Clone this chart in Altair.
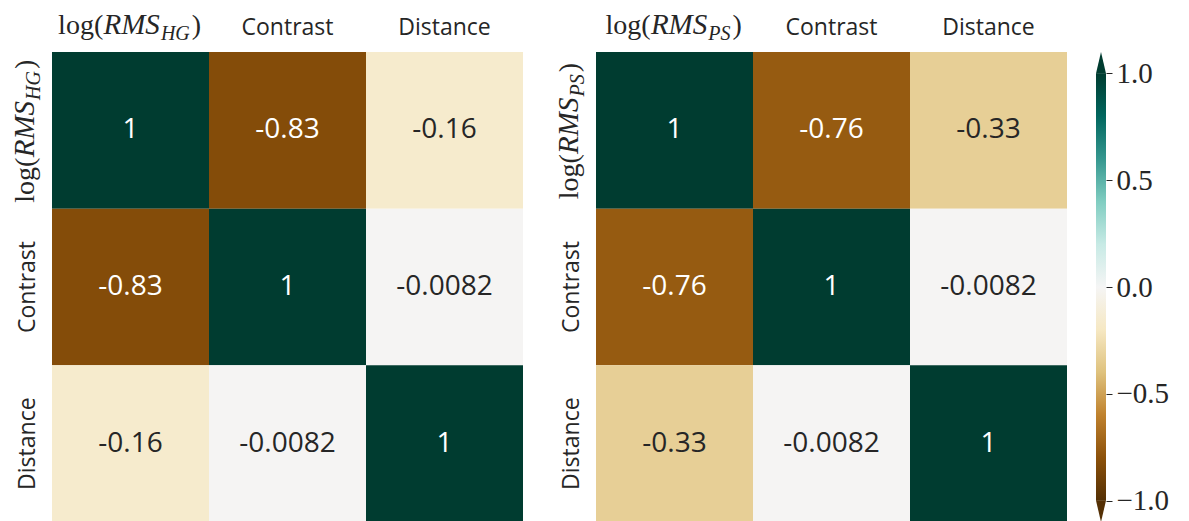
import altair as alt
import pandas as pd

# ---- data ----
labels_hg = ["log(RMS_HG)", "Contrast", "Distance"]
labels_ps = ["log(RMS_PS)", "Contrast", "Distance"]
corr_hg = [[1, -0.83, -0.16],
           [-0.83, 1, -0.0082],
           [-0.16, -0.0082, 1]]
corr_ps = [[1, -0.76, -0.33],
           [-0.76, 1, -0.0082],
           [-0.33, -0.0082, 1]]
cbar_ticks = [-1.0, -0.5, 0.0, 0.5, 1.0]
cbar_range = [-1.0, 1.0]

# BrBG (ColorBrewer 11) and its stops
brbg_colors = ["#543005", "#8c510a", "#bf812d", "#dfc27d", "#f6e8c3", "#f5f5f5",
               "#c7eae5", "#80cdc1", "#35978f", "#01665e", "#003c30"]
brbg_stops = [-1.0, -0.8, -0.6, -0.4, -0.2, 0.0, 0.2, 0.4, 0.6, 0.8, 1.0]

SANS = "Open Sans"
SERIF = "Liberation Serif"
DARK = "#262626"
W, H = 471, 470
LAB_OFF = 18

# math label pieces: text, style, size, dx, dy
pieces_hg = [("log(", "normal", 28, -72.4, 0), ("RMS", "italic", 29, -27, 0),
             ("HG", "italic", 20, 30.4, 6), (")", "normal", 28, 61.3, 0)]
pieces_ps = [("log(", "normal", 28, -69, 0), ("RMS", "italic", 29, -23.6, 0),
             ("PS", "italic", 20, 33.8, 6), (")", "normal", 28, 58, 0)]


def cells(cats, corr):
    rows = []
    for i, r in enumerate(cats):
        for j, c in enumerate(cats):
            v = corr[i][j]
            rows.append({"row": r, "col": c, "v": v, "label": format(v, ".2g")})
    return pd.DataFrame(rows)


def heat_layers(cats, corr, pieces):
    df = cells(cats, corr)
    xs = alt.Scale(domain=cats, paddingInner=0, paddingOuter=0)
    ys = alt.Scale(domain=cats, paddingInner=0, paddingOuter=0)
    blank = f"datum.value == '{cats[0]}' ? '' : datum.value"
    xaxis = alt.Axis(orient="top", title=None, labelAngle=0, labelAlign="center",
                     labelBaseline="alphabetic", labelPadding=LAB_OFF, ticks=False,
                     tickSize=0, domain=False, labelFont=SANS, labelFontSize=23,
                     labelColor=DARK, labelExpr=blank, labelOverlap=False)
    yaxis = alt.Axis(orient="left", title=None, labelAngle=270, labelAlign="center",
                     labelBaseline="alphabetic", labelPadding=LAB_OFF, ticks=False,
                     tickSize=0, domain=False, labelFont=SANS, labelFontSize=23,
                     labelColor=DARK, labelExpr=blank, labelOverlap=False)
    rect = alt.Chart(df).mark_rect(strokeWidth=0).encode(
        x=alt.X("col:N", scale=xs, axis=xaxis, title=None),
        y=alt.Y("row:N", scale=ys, axis=yaxis, title=None),
        color=alt.Color("v:Q", scale=alt.Scale(domain=brbg_stops, range=brbg_colors,
                                                interpolate="rgb"), legend=None),
    )
    text = alt.Chart(df).mark_text(font=SANS, fontSize=28, baseline="middle").encode(
        x=alt.X("col:N", scale=xs, title=None),
        y=alt.Y("row:N", scale=ys, title=None),
        text="label:N",
        color=alt.when(alt.expr.abs(alt.datum.v) > 0.5)
                 .then(alt.value("white")).otherwise(alt.value(DARK)),
    )
    layers = [rect, text]
    top_df = pd.DataFrame({"col": [cats[0]]})
    left_df = pd.DataFrame({"row": [cats[0]]})
    for t, style, fs, dx, dy in pieces:
        layers.append(
            alt.Chart(top_df).mark_text(text=t, font=SERIF, fontSize=fs, fontStyle=style,
                                        align="left", baseline="alphabetic", dx=dx, dy=dy,
                                        color=DARK)
            .encode(x=alt.X("col:N", scale=xs, title=None), y=alt.value(-LAB_OFF))
        )
        layers.append(
            alt.Chart(left_df).mark_text(text=t, font=SERIF, fontSize=fs, fontStyle=style,
                                         align="left", baseline="alphabetic", dx=dx, dy=dy,
                                         angle=270, color=DARK)
            .encode(y=alt.Y("row:N", scale=ys, title=None), x=alt.value(-LAB_OFF))
        )
    return alt.layer(*layers)


left = heat_layers(labels_hg, corr_hg, pieces_hg).properties(width=W, height=H)

# ---- colorbar ----
cy = alt.Scale(domain=[-1.1, 1.1], nice=False, zero=False)
cb_df = pd.DataFrame({"lo": [cbar_range[0]], "hi": [cbar_range[1]]})
grad = alt.Gradient(
    gradient="linear",
    stops=[alt.GradientStop(color=c, offset=(s + 1) / 2) for c, s in zip(brbg_colors, brbg_stops)],
    x1=0, x2=0, y1=1, y2=0,
)
cb_x0, cb_x1 = 500, 510
cbar_rect = alt.Chart(cb_df).mark_rect(fill=grad, strokeWidth=0).encode(
    x=alt.value(cb_x0), x2=alt.value(cb_x1),
    y=alt.Y("lo:Q", scale=cy, title=None,
            axis=alt.Axis(orient="right", offset=cb_x1 - W, values=cbar_ticks, format=".1f",
                          domain=False, grid=False, ticks=True, tickSize=6, tickWidth=1,
                          tickColor=DARK, labelPadding=4, labelFont=SERIF, labelFontSize=29,
                          labelColor=DARK, labelBaseline="middle", labelOverlap=False)),
    y2="hi:Q",
)
tri_up = alt.Chart(pd.DataFrame({"y": [1.05]})).mark_point(
    shape="M-0.467,1L0,-1L0.467,1Z", size=458, filled=True, fill=brbg_colors[-1],
    strokeWidth=0, opacity=1).encode(x=alt.value((cb_x0 + cb_x1) / 2), y=alt.Y("y:Q", scale=cy))
tri_dn = alt.Chart(pd.DataFrame({"y": [-1.05]})).mark_point(
    shape="M-0.467,-1L0,1L0.467,-1Z", size=458, filled=True, fill=brbg_colors[0],
    strokeWidth=0, opacity=1).encode(x=alt.value((cb_x0 + cb_x1) / 2), y=alt.Y("y:Q", scale=cy))
cbar = alt.layer(cbar_rect, tri_up, tri_dn)

right = alt.layer(heat_layers(labels_ps, corr_ps, pieces_ps), cbar).resolve_scale(
    y="independent").properties(width=W, height=H)

chart = alt.hconcat(left, right, spacing=32).properties(
    padding={"left": 3, "top": 3, "right": 0, "bottom": 0},
    background="white",
).configure_view(stroke=None)

chart.save("out.html", embed_options={"renderer": "svg", "actions": False})
